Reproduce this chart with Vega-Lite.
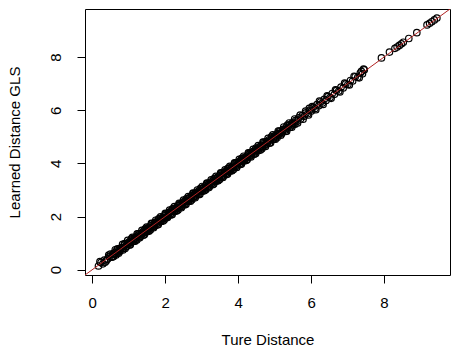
{
  "$schema": "https://vega.github.io/schema/vega-lite/v6.json",
  "width": 365,
  "height": 266,
  "autosize": "none",
  "padding": {"left": 85, "top": 9, "right": 4, "bottom": 83},
  "background": "white",
  "config": {
    "view": {"stroke": "black", "strokeWidth": 1},
    "font": "Liberation Sans",
    "axis": {
      "domain": false,
      "grid": false,
      "ticks": true,
      "tickColor": "black",
      "tickSize": 8,
      "tickWidth": 1,
      "labelFont": "Liberation Sans",
      "labelFontSize": 15,
      "labelColor": "black",
      "titleFont": "Liberation Sans",
      "titleFontSize": 15,
      "titleFontWeight": "normal",
      "titleColor": "black"
    }
  },
  "datasets": {
    "pts": [
      {"x":0.17,"y":0.14},{"x":0.24,"y":0.27},{"x":0.29,"y":0.22},{"x":0.33,"y":0.36},{"x":0.38,"y":0.33},
      {"x":0.42,"y":0.40},{"x":0.47,"y":0.50},{"x":0.52,"y":0.47},{"x":0.56,"y":0.58},{"x":0.61,"y":0.57},
      {"x":0.66,"y":0.70},{"x":0.70,"y":0.66},{"x":0.74,"y":0.78},{"x":0.77,"y":0.73},{"x":0.81,"y":0.84},
      {"x":0.85,"y":0.82},{"x":0.88,"y":0.93},{"x":0.92,"y":0.88},{"x":0.95,"y":0.99},{"x":0.99,"y":0.96},
      {"x":1.02,"y":1.06},{"x":1.05,"y":1.01},{"x":1.08,"y":1.12},{"x":1.12,"y":1.09},{"x":1.15,"y":1.19},
      {"x":1.18,"y":1.14},{"x":1.21,"y":1.25},{"x":1.25,"y":1.22},{"x":1.28,"y":1.31},{"x":1.31,"y":1.27},
      {"x":1.34,"y":1.38},{"x":1.38,"y":1.35},{"x":1.41,"y":1.46},{"x":1.44,"y":1.40},{"x":1.47,"y":1.51},
      {"x":1.51,"y":1.48},{"x":1.54,"y":1.58},{"x":1.57,"y":1.53},{"x":1.60,"y":1.65},{"x":1.63,"y":1.60},
      {"x":1.67,"y":1.70},{"x":1.70,"y":1.66},{"x":1.73,"y":1.78},{"x":1.76,"y":1.72},{"x":1.79,"y":1.83},
      {"x":1.83,"y":1.80},{"x":1.86,"y":1.91},{"x":1.89,"y":1.85},{"x":1.92,"y":1.96},{"x":1.95,"y":1.92},
      {"x":1.98,"y":2.03},{"x":2.02,"y":1.98},{"x":2.05,"y":2.09},{"x":2.08,"y":2.04},{"x":2.11,"y":2.16},
      {"x":2.14,"y":2.10},{"x":2.17,"y":2.21},{"x":2.21,"y":2.18},{"x":2.24,"y":2.29},{"x":2.27,"y":2.23},
      {"x":2.30,"y":2.34},{"x":2.33,"y":2.30},{"x":2.36,"y":2.41},{"x":2.40,"y":2.36},{"x":2.43,"y":2.47},
      {"x":2.46,"y":2.43},{"x":2.49,"y":2.54},{"x":2.52,"y":2.48},{"x":2.55,"y":2.59},{"x":2.59,"y":2.56},
      {"x":2.62,"y":2.67},{"x":2.65,"y":2.61},{"x":2.68,"y":2.72},{"x":2.71,"y":2.68},{"x":2.74,"y":2.79},
      {"x":2.78,"y":2.74},{"x":2.81,"y":2.85},{"x":2.84,"y":2.81},{"x":2.87,"y":2.92},{"x":2.90,"y":2.86},
      {"x":2.93,"y":2.97},{"x":2.97,"y":2.94},{"x":3.00,"y":3.05},{"x":3.03,"y":2.99},{"x":3.06,"y":3.10},
      {"x":3.09,"y":3.06},{"x":3.12,"y":3.17},{"x":3.16,"y":3.12},{"x":3.19,"y":3.23},{"x":3.22,"y":3.19},
      {"x":3.25,"y":3.30},{"x":3.28,"y":3.24},{"x":3.31,"y":3.35},{"x":3.35,"y":3.32},{"x":3.38,"y":3.43},
      {"x":3.41,"y":3.37},{"x":3.44,"y":3.48},{"x":3.47,"y":3.44},{"x":3.50,"y":3.55},{"x":3.54,"y":3.50},
      {"x":3.57,"y":3.61},{"x":3.60,"y":3.57},{"x":3.63,"y":3.68},{"x":3.66,"y":3.62},{"x":3.69,"y":3.73},
      {"x":3.73,"y":3.70},{"x":3.76,"y":3.81},{"x":3.79,"y":3.75},{"x":3.82,"y":3.86},{"x":3.85,"y":3.82},
      {"x":3.88,"y":3.93},{"x":3.92,"y":3.88},{"x":3.95,"y":3.99},{"x":3.98,"y":3.95},{"x":4.01,"y":4.06},
      {"x":4.04,"y":4.00},{"x":4.07,"y":4.11},{"x":4.11,"y":4.08},{"x":4.14,"y":4.19},{"x":4.17,"y":4.13},
      {"x":4.20,"y":4.24},{"x":4.23,"y":4.20},{"x":4.27,"y":4.31},{"x":4.30,"y":4.26},{"x":4.33,"y":4.37},
      {"x":4.36,"y":4.33},{"x":4.40,"y":4.44},{"x":4.43,"y":4.39},{"x":4.47,"y":4.51},{"x":4.50,"y":4.47},
      {"x":4.54,"y":4.58},{"x":4.58,"y":4.54},{"x":4.62,"y":4.66},{"x":4.66,"y":4.63},{"x":4.70,"y":4.74},
      {"x":4.73,"y":4.70},{"x":4.77,"y":4.82},{"x":4.80,"y":4.77},{"x":4.84,"y":4.88},{"x":4.88,"y":4.85},
      {"x":4.92,"y":4.96},{"x":4.96,"y":4.93},{"x":5.00,"y":5.04},{"x":5.04,"y":5.00},{"x":5.08,"y":5.12},
      {"x":5.12,"y":5.09},{"x":5.16,"y":5.20},{"x":5.20,"y":5.17},{"x":5.24,"y":5.28},{"x":5.28,"y":5.25},
      {"x":5.32,"y":5.37},{"x":5.36,"y":5.33},{"x":5.41,"y":5.45},{"x":5.45,"y":5.42},{"x":5.49,"y":5.53},
      {"x":5.53,"y":5.49},{"x":5.58,"y":5.62},{"x":5.62,"y":5.59},{"x":5.66,"y":5.71},{"x":5.71,"y":5.67},
      {"x":5.76,"y":5.80},{"x":5.81,"y":5.77},{"x":5.86,"y":5.90},{"x":5.91,"y":5.87},{"x":5.95,"y":6.07},
      {"x":5.96,"y":6.00},{"x":6.01,"y":5.97},{"x":6.06,"y":6.11},{"x":6.11,"y":6.07},{"x":6.16,"y":6.21},
      {"x":6.21,"y":6.17},{"x":6.26,"y":6.31},{"x":6.31,"y":6.27},{"x":6.36,"y":6.41},{"x":6.41,"y":6.37},
      {"x":6.46,"y":6.51},{"x":6.52,"y":6.48},{"x":6.58,"y":6.63},{"x":6.64,"y":6.60},{"x":6.70,"y":6.75},
      {"x":6.76,"y":6.72},{"x":6.82,"y":6.87},{"x":6.88,"y":6.84},{"x":6.95,"y":6.99},{"x":7.01,"y":6.97},
      {"x":7.08,"y":7.12},{"x":7.14,"y":7.10},{"x":7.21,"y":7.26},{"x":7.28,"y":7.24},{"x":7.35,"y":7.40},
      {"x":7.41,"y":7.37},{"x":7.46,"y":7.52},
      {"x":0.21,"y":0.30},{"x":0.35,"y":0.28},{"x":0.45,"y":0.55},{"x":0.58,"y":0.50},{"x":0.63,"y":0.75},
      {"x":0.72,"y":0.62},{"x":0.83,"y":0.95},{"x":0.90,"y":0.80},{"x":0.97,"y":1.10},{"x":1.04,"y":0.94},
      {"x":1.10,"y":1.22},{"x":1.17,"y":1.07},{"x":1.23,"y":1.35},{"x":1.30,"y":1.20},{"x":1.36,"y":1.48},
      {"x":1.43,"y":1.32},{"x":1.49,"y":1.60},{"x":1.55,"y":1.45},{"x":1.62,"y":1.74},{"x":1.68,"y":1.58},
      {"x":1.74,"y":1.86},{"x":1.81,"y":1.70},{"x":1.87,"y":1.99},{"x":1.94,"y":1.83},{"x":2.00,"y":2.12},
      {"x":2.06,"y":1.96},{"x":2.12,"y":2.24},{"x":2.19,"y":2.08},{"x":2.25,"y":2.37},{"x":2.31,"y":2.21},
      {"x":2.38,"y":2.50},{"x":2.44,"y":2.33},{"x":2.50,"y":2.62},{"x":2.57,"y":2.46},{"x":2.63,"y":2.75},
      {"x":2.69,"y":2.58},{"x":2.76,"y":2.88},{"x":2.82,"y":2.71},{"x":2.88,"y":3.00},{"x":2.95,"y":2.84},
      {"x":3.01,"y":3.13},{"x":3.07,"y":2.97},{"x":3.14,"y":3.26},{"x":3.20,"y":3.09},{"x":3.26,"y":3.38},
      {"x":3.33,"y":3.22},{"x":3.39,"y":3.51},{"x":3.45,"y":3.35},{"x":3.52,"y":3.64},{"x":3.58,"y":3.47},
      {"x":3.64,"y":3.76},{"x":3.71,"y":3.60},{"x":3.77,"y":3.89},{"x":3.83,"y":3.72},{"x":3.90,"y":4.02},
      {"x":3.96,"y":3.85},{"x":4.03,"y":4.15},{"x":4.09,"y":3.98},{"x":4.15,"y":4.27},{"x":4.22,"y":4.11},
      {"x":4.28,"y":4.40},{"x":4.35,"y":4.24},{"x":4.41,"y":4.53},{"x":4.48,"y":4.37},{"x":4.55,"y":4.67},
      {"x":4.61,"y":4.50},{"x":4.68,"y":4.80},{"x":4.75,"y":4.64},{"x":4.82,"y":4.94},{"x":4.89,"y":4.78},
      {"x":4.95,"y":5.07},{"x":5.02,"y":4.91},{"x":5.10,"y":5.22},{"x":5.17,"y":5.06},{"x":5.25,"y":5.37},
      {"x":5.33,"y":5.21},{"x":5.40,"y":5.52},{"x":5.47,"y":5.36},{"x":5.55,"y":5.67},{"x":5.63,"y":5.52},
      {"x":5.70,"y":5.82},{"x":5.78,"y":5.66},{"x":5.85,"y":5.97},{"x":5.93,"y":5.82},{"x":6.03,"y":6.14},
      {"x":6.13,"y":6.02},{"x":6.23,"y":6.34},{"x":6.33,"y":6.22},{"x":6.44,"y":6.54},{"x":6.55,"y":6.45},
      {"x":6.67,"y":6.77},{"x":6.79,"y":6.69},{"x":6.92,"y":7.02},{"x":7.05,"y":6.95},{"x":7.18,"y":7.28},
      {"x":7.32,"y":7.22},{"x":7.44,"y":7.55},{"x":7.38,"y":7.46},
      {"x":0.50,"y":0.59},{"x":0.55,"y":0.48},{"x":0.60,"y":0.62},{"x":0.65,"y":0.55},{"x":0.69,"y":0.78},
      {"x":0.75,"y":0.68},{"x":0.79,"y":0.81},{"x":0.84,"y":0.74},{"x":0.89,"y":0.98},{"x":0.94,"y":0.87},
      {"x":0.98,"y":1.00},{"x":1.03,"y":0.93},{"x":1.07,"y":1.16},{"x":1.13,"y":1.06},{"x":1.16,"y":1.18},
      {"x":1.22,"y":1.12},{"x":1.26,"y":1.35},{"x":1.32,"y":1.25},{"x":1.35,"y":1.37},{"x":1.40,"y":1.30},
      {"x":1.45,"y":1.54},{"x":1.50,"y":1.43},{"x":1.53,"y":1.55},{"x":1.59,"y":1.49},{"x":1.64,"y":1.73},
      {"x":1.69,"y":1.62},{"x":1.72,"y":1.74},{"x":1.78,"y":1.68},{"x":1.82,"y":1.91},{"x":1.88,"y":1.81},
      {"x":1.91,"y":1.93},{"x":1.97,"y":1.87},{"x":2.01,"y":2.10},{"x":2.07,"y":2.00},{"x":2.10,"y":2.12},
      {"x":2.16,"y":2.06},{"x":2.20,"y":2.29},{"x":2.26,"y":2.19},{"x":2.29,"y":2.31},{"x":2.35,"y":2.25},
      {"x":2.39,"y":2.48},{"x":2.45,"y":2.38},{"x":2.48,"y":2.50},{"x":2.54,"y":2.44},{"x":2.58,"y":2.67},
      {"x":2.64,"y":2.57},{"x":2.67,"y":2.69},{"x":2.73,"y":2.63},{"x":2.77,"y":2.86},{"x":2.83,"y":2.76},
      {"x":2.86,"y":2.88},{"x":2.92,"y":2.82},{"x":2.96,"y":3.05},{"x":3.02,"y":2.95},{"x":3.05,"y":3.07},
      {"x":3.11,"y":3.01},{"x":3.15,"y":3.24},{"x":3.21,"y":3.14},{"x":3.24,"y":3.26},{"x":3.30,"y":3.20},
      {"x":3.34,"y":3.43},{"x":3.40,"y":3.33},{"x":3.43,"y":3.45},{"x":3.49,"y":3.39},{"x":3.53,"y":3.62},
      {"x":3.59,"y":3.52},{"x":3.62,"y":3.64},{"x":3.68,"y":3.58},{"x":3.72,"y":3.81},{"x":3.78,"y":3.71},
      {"x":3.81,"y":3.83},{"x":3.87,"y":3.77},{"x":3.91,"y":4.00},{"x":3.97,"y":3.90},{"x":4.00,"y":4.02},
      {"x":4.06,"y":3.96},{"x":4.10,"y":4.19},{"x":4.16,"y":4.09},{"x":4.19,"y":4.21},{"x":4.25,"y":4.15},
      {"x":4.29,"y":4.38},{"x":4.34,"y":4.28},{"x":4.38,"y":4.40},{"x":4.44,"y":4.34},{"x":4.49,"y":4.58},
      {"x":4.55,"y":4.48},{"x":4.59,"y":4.61},{"x":4.65,"y":4.55},{"x":4.70,"y":4.79},{"x":4.76,"y":4.69},
      {"x":4.80,"y":4.82},{"x":4.86,"y":4.76},{"x":4.91,"y":5.00},{"x":4.97,"y":4.90},{"x":5.01,"y":5.03},
      {"x":5.07,"y":4.97},{"x":5.13,"y":5.22},{"x":5.19,"y":5.12},{"x":5.23,"y":5.25},{"x":5.30,"y":5.20},
      {"x":5.35,"y":5.44},{"x":5.42,"y":5.35},{"x":5.48,"y":5.50},{"x":5.56,"y":5.47},
      {"x":7.93,"y":7.97},{"x":8.15,"y":8.19},{"x":8.30,"y":8.33},{"x":8.36,"y":8.38},{"x":8.42,"y":8.44},
      {"x":8.48,"y":8.50},{"x":8.53,"y":8.56},{"x":8.68,"y":8.70},{"x":8.90,"y":8.92},{"x":9.18,"y":9.21},
      {"x":9.25,"y":9.27},{"x":9.31,"y":9.33},{"x":9.38,"y":9.40},{"x":9.45,"y":9.47}
    ],
    "ref": [{"x": -1, "y": -1}, {"x": 11, "y": 11}]
  },
  "layer": [
    {
      "data": {"name": "pts"},
      "mark": {"type": "point", "shape": "circle", "filled": false, "stroke": "black", "strokeWidth": 1.2, "size": 42, "opacity": 1},
      "encoding": {
        "x": {"field": "x", "type": "quantitative", "scale": {"domain": [-0.2, 9.81], "nice": false, "zero": false},
          "axis": {"values": [0, 2, 4, 6, 8], "title": "Ture Distance", "labelPadding": 12, "titlePadding": 22, "labelAngle": 0}},
        "y": {"field": "y", "type": "quantitative", "scale": {"domain": [-0.2, 9.81], "nice": false, "zero": false},
          "axis": {"values": [0, 2, 4, 6, 8], "title": "Learned Distance GLS", "labelAngle": -90, "labelAlign": "center", "labelBaseline": "alphabetic", "labelPadding": 17, "titlePadding": 26}}
      }
    },
    {
      "data": {"name": "ref"},
      "mark": {"type": "line", "color": "#B22222", "strokeWidth": 1, "clip": true},
      "encoding": {
        "x": {"field": "x", "type": "quantitative"},
        "y": {"field": "y", "type": "quantitative"}
      }
    }
  ]
}
